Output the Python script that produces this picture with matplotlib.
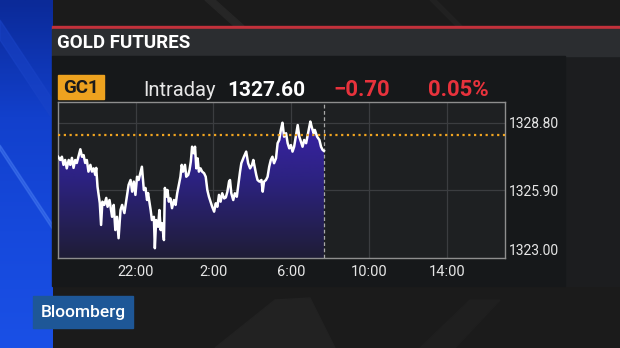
import numpy as np
import matplotlib
matplotlib.use("Agg")
import matplotlib.pyplot as plt
from matplotlib.patches import Rectangle, Polygon

plt.rcParams["font.family"] = ["Roboto", "DejaVu Sans"]

# GC1 intraday session, 18:00 -> 17:00 (ET)
times = [
    "18:00", "18:07", "18:12", "18:17", "18:22", "18:27", "18:33", "18:38", "18:43", "18:48",
    "18:53", "18:58", "19:03", "19:09", "19:14", "19:19", "19:24", "19:29", "19:34", "19:40",
    "19:45", "19:50", "19:55", "19:58", "20:02", "20:09", "20:13", "20:17", "20:23", "20:29",
    "20:33", "20:39", "20:47", "20:52", "20:57", "21:02", "21:07", "21:13", "21:18", "21:25",
    "21:31", "21:38", "21:44", "21:49", "21:54", "21:59", "22:04", "22:09", "22:19", "22:25",
    "22:30", "22:35", "22:38", "22:46", "22:50", "22:56", "22:59", "23:03", "23:09", "23:13",
    "23:17", "23:21", "23:27", "23:30", "23:34", "23:38", "23:42", "23:47", "23:52", "23:58",
    "00:03", "00:08", "00:13", "00:18", "00:22", "00:26", "00:32", "00:36", "00:42", "00:46",
    "00:50", "00:54", "00:59", "01:03", "01:07", "01:11", "01:15", "01:20", "01:25", "01:31",
    "01:36", "01:41", "01:46", "01:51", "01:56", "02:02", "02:07", "02:12", "02:17", "02:22",
    "02:27", "02:33", "02:38", "02:43", "02:48", "02:51", "02:55", "03:01", "03:06", "03:12",
    "03:16", "03:22", "03:26", "03:30", "03:34", "03:41", "03:47", "03:53", "03:59", "04:03",
    "04:08", "04:12", "04:16", "04:22", "04:28", "04:32", "04:36", "04:42", "04:47", "04:52",
    "04:57", "05:02", "05:07", "05:13", "05:18", "05:23", "05:28", "05:33", "05:38", "05:44",
    "05:49", "05:54", "05:59", "06:04", "06:09", "06:15", "06:20", "06:25", "06:30", "06:35",
    "06:40", "06:46", "06:51", "06:56", "06:59", "07:03", "07:09", "07:13", "07:20", "07:27",
    "07:32", "07:37", "07:41",
]
prices = [
    1327.35, 1327.21, 1327.35, 1327.00, 1327.21, 1326.85, 1327.21, 1327.00, 1327.30, 1326.87,
    1327.21, 1327.08, 1327.35, 1327.67, 1327.35, 1327.42, 1327.08, 1327.21, 1326.71, 1327.00,
    1326.71, 1326.85, 1326.57, 1326.87, 1326.06, 1325.36, 1324.42, 1325.42, 1325.28, 1325.58,
    1325.20, 1325.49, 1324.77, 1325.28, 1324.20, 1324.77, 1323.85, 1325.06, 1325.28, 1324.93,
    1325.49, 1326.14, 1326.35, 1325.85, 1326.28, 1325.71, 1326.49, 1326.35, 1326.92, 1325.92,
    1326.01, 1325.49, 1325.79, 1325.06, 1324.63, 1324.77, 1323.42, 1324.63, 1324.34, 1325.06,
    1324.20, 1324.50, 1323.77, 1326.01, 1325.63, 1325.92, 1325.42, 1325.56, 1325.14, 1325.49,
    1325.28, 1325.78, 1326.14, 1326.49, 1327.00, 1326.71, 1327.00, 1326.49, 1326.57, 1326.78,
    1327.14, 1327.78, 1327.50, 1327.78, 1326.85, 1327.28, 1326.71, 1326.85, 1326.71, 1326.64,
    1326.49, 1325.92, 1325.63, 1325.42, 1325.20, 1324.99, 1325.35, 1325.20, 1325.71, 1325.42,
    1325.78, 1325.56, 1325.60, 1325.85, 1326.28, 1326.35, 1325.78, 1325.49, 1325.78, 1325.63,
    1326.06, 1326.71, 1327.07, 1327.21, 1327.35, 1327.57, 1327.07, 1326.85, 1327.00, 1327.21,
    1326.85, 1326.57, 1326.35, 1326.28, 1326.35, 1325.85, 1326.28, 1326.35, 1326.49, 1326.92,
    1327.21, 1327.35, 1327.07, 1327.28, 1327.93, 1328.07, 1328.50, 1328.81, 1328.21, 1328.36,
    1327.93, 1327.71, 1327.85, 1327.57, 1327.78, 1328.28, 1328.71, 1328.21, 1328.00, 1327.78,
    1328.07, 1327.93, 1328.28, 1328.64, 1328.86, 1328.64, 1328.36, 1328.50, 1328.21, 1328.07,
    1327.78, 1327.64, 1327.60,
]
prev_close = 1328.30
last_price = 1327.60
net_change = "\u22120.70"
pct_change = "0.05%"

tick_labels = ["22:00", "2:00", "6:00", "10:00", "14:00"]
y_ticks = [1323.00, 1325.90, 1328.80]
y_top = 1329.70
session_hours = 23


def hours_since_open(hhmm, open_hour=18):
    h, m = map(int, hhmm.split(":"))
    return ((h * 60 + m - open_hour * 60) % 1440) / 60


t = np.array([hours_since_open(s) for s in times])
p = np.array(prices)
tick_pos = [hours_since_open(s) for s in tick_labels]

W, H = 620, 348
fig = plt.figure(figsize=(W / 100, H / 100), dpi=100)
fig.patch.set_facecolor("#1b1b1b")

# ---- studio background / frame (pixel coordinates) ----
bg = fig.add_axes([0, 0, 1, 1])
bg.set_xlim(0, W)
bg.set_ylim(H, 0)
bg.axis("off")

bg.add_patch(Rectangle((0, 0), W, H, color="#1b1b1b", zorder=0))
bg.add_patch(Polygon([(205, 0), (215, 0), (244, 26), (234, 26)], color="#262626", zorder=1))
bg.add_patch(Polygon([(430, 0), (436, 0), (462, 26), (456, 26)], color="#212121", zorder=1))
bg.add_patch(Polygon([(215, 348), (275, 300), (310, 298), (335, 348)], color="#222222", zorder=1))
bg.add_patch(Polygon([(420, 348), (470, 300), (500, 300), (455, 348)], color="#1f1f1f", zorder=1))
bg.add_patch(Rectangle((565, 56), 55, 230, color="#1c1d1f", zorder=1))

# blue strip on the left
blue = np.linspace(0, 1, 200)[:, None] * np.ones((1, 20))
blue_cmap = matplotlib.colors.LinearSegmentedColormap.from_list(
    "blue", ["#0b2a98", "#1240cc", "#1649dc", "#1a50e6"])
bg.imshow(blue, cmap=blue_cmap, extent=[0, 53, H, 0], aspect="auto", zorder=1)
bg.add_patch(Polygon([(0, 145), (0, 150), (53, 230), (53, 225)], color="#4a7ef2", alpha=0.45, zorder=2))
bg.add_patch(Polygon([(0, 20), (0, 40), (53, 120), (53, 100)], color="#1a44c8", alpha=0.5, zorder=2))

# header bar
bg.add_patch(Rectangle((52, 25.5), W - 52, 3.5, color="#c3313b", zorder=2))
bg.add_patch(Rectangle((52, 29), W - 52, 27, color="#2b2d30", zorder=2))
bg.add_patch(Rectangle((52, 56), 513, 230, color="#16181a", zorder=2))

bg.text(57, 48.5, "GOLD FUTURES", color="white", fontsize=13.5, fontweight="bold",
        va="baseline", ha="left", zorder=3)

bg.add_patch(Rectangle((58, 75), 46, 24, color="#eea21f", zorder=3))
bg.text(81, 88, "GC1", color="#1b1b1b", fontsize=13.5, fontweight="bold",
        va="center", ha="center", zorder=4)
bg.text(143, 95.5, "Intraday", color="#e6e6e6", fontsize=14.5, va="baseline", zorder=4)
bg.text(227, 95.5, f"{last_price:.2f}", color="white", fontsize=15, fontweight="bold",
        va="baseline", zorder=4)
bg.text(333, 95.5, net_change, color="#e8323c", fontsize=16, fontweight="bold",
        va="baseline", zorder=4)
bg.text(428, 95.5, pct_change, color="#e8323c", fontsize=16, fontweight="bold",
        va="baseline", zorder=4)

# Bloomberg bug
bg.add_patch(Rectangle((33, 296), 100, 32, color="#1e5797", zorder=3))
bg.text(83, 312.5, "Bloomberg", color="white", fontsize=12.5, fontweight="medium",
        va="center", ha="center", zorder=4)

# ---- the chart itself ----
ax = fig.add_axes([58 / W, 1 - 258 / H, 447 / W, 156 / H])
ax.set_facecolor("#1e2022")
ax.set_xlim(0, session_hours)
ax.set_ylim(y_ticks[0], y_top)

for s in ax.spines.values():
    s.set_color("#8e8e8e")
    s.set_linewidth(1)

ax.set_xticks(tick_pos)
ax.set_xticklabels(tick_labels)
ax.set_yticks(y_ticks)
ax.set_yticklabels([f"{v:.2f}" for v in y_ticks])
ax.yaxis.tick_right()
ax.tick_params(axis="both", length=0, colors="#e6e6e6")
ax.tick_params(axis="x", pad=5, labelsize=10.5)
ax.tick_params(axis="y", pad=2.5, labelsize=10)
ax.yaxis.get_major_ticks()[0].label2.set_verticalalignment("bottom")
ax.grid(True, color="#3b3d40", linewidth=0.9)
ax.set_axisbelow(True)

# gradient area under price
fill = ax.fill_between(t, p, y_ticks[0], facecolor="none", edgecolor="none")
grad = np.linspace(1, 0, 256)[:, None]
fill_cmap = matplotlib.colors.LinearSegmentedColormap.from_list("fill", ["#1f1d36", "#2c2280", "#3f22b4"])
img = ax.imshow(grad, cmap=fill_cmap, extent=[0, session_hours, y_ticks[0], y_top],
                aspect="auto", zorder=2)
img.set_clip_path(fill.get_paths()[0], transform=ax.transData)

ax.plot(t, p, color="white", linewidth=1.8, zorder=4)
ax.axhline(prev_close, color="#f0a420", linestyle=(0, (1, 1.6)), linewidth=1.6, zorder=5)
ax.axvline(t[-1], color="#a8a8a8", linestyle=(0, (3, 2)), linewidth=0.9, zorder=3)

fig.savefig("out.png", dpi=100, facecolor=fig.get_facecolor())
